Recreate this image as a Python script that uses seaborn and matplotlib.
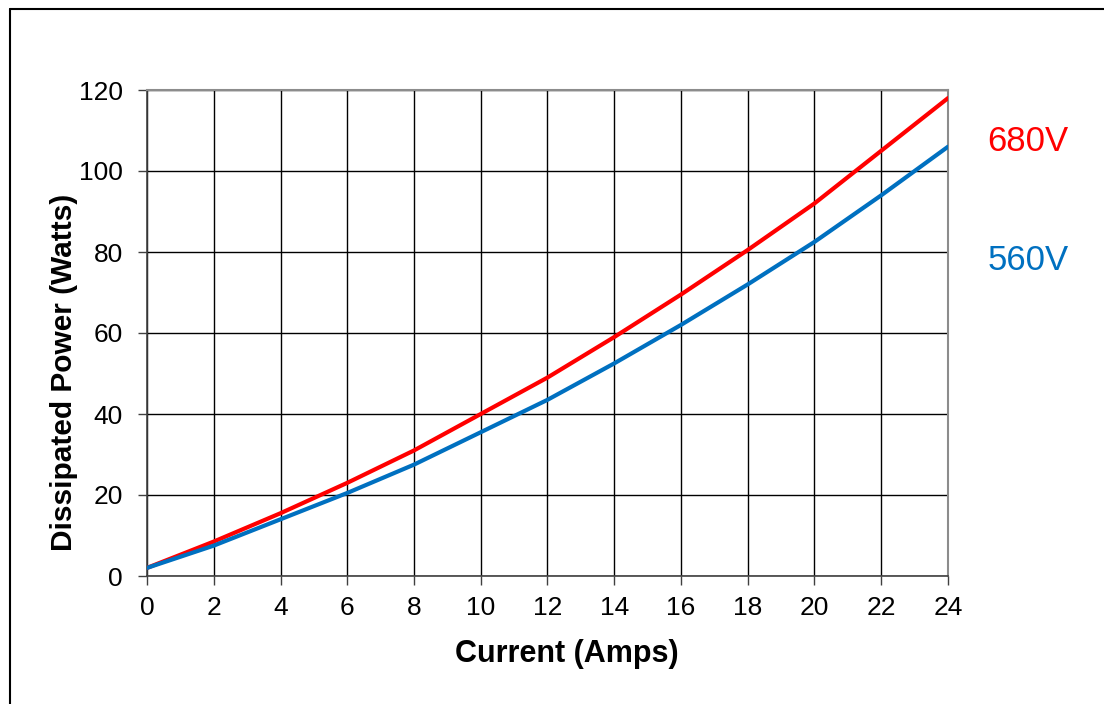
import matplotlib
matplotlib.use("Agg")
import matplotlib.pyplot as plt
import seaborn as sns
import pandas as pd
from matplotlib.lines import Line2D

current = [0, 2, 4, 6, 8, 10, 12, 14, 16, 18, 20, 22, 24]
power_680 = [2, 8.5, 15.5, 23, 31, 40, 49, 59, 69.5, 80.5, 92, 105, 118]
power_560 = [2, 7.5, 14, 20.5, 27.5, 35.5, 43.5, 52.5, 62, 72, 82.5, 94, 106]
series_names = ["680V", "560V"]
x_ticks = list(range(0, 25, 2))
y_ticks = list(range(0, 121, 20))

df = pd.DataFrame({
    "Current": current * 2,
    "Power": power_680 + power_560,
    "Series": [series_names[0]] * len(current) + [series_names[1]] * len(current),
})

sns.set_style("white")
plt.rcParams["font.family"] = ["Liberation Sans", "DejaVu Sans"]
plt.rcParams["text.color"] = "black"
plt.rcParams["axes.labelcolor"] = "black"
plt.rcParams["xtick.labelcolor"] = "black"
plt.rcParams["ytick.labelcolor"] = "black"

fig = plt.figure(figsize=(11.04, 7.04), dpi=100)
ax = fig.add_axes([147/1104, 1-576/704, (948-147)/1104, (576-90)/704])

colors = {"680V": "#FF0000", "560V": "#0070C0"}
sns.lineplot(data=df, x="Current", y="Power", hue="Series", palette=colors,
             linewidth=3, ax=ax, legend=False, zorder=3)

ax.set_xlim(0, 24)
ax.set_ylim(0, 120)
ax.set_xticks(x_ticks)
ax.set_yticks(y_ticks)
ax.grid(True, color="black", linewidth=1.0, zorder=1)
ax.set_axisbelow(True)
for s in ["top", "right"]:
    ax.spines[s].set_color("#8c8c8c")
    ax.spines[s].set_linewidth(1.5)
for s in ["left", "bottom"]:
    ax.spines[s].set_color("#404040")
    ax.spines[s].set_linewidth(1.2)
ax.tick_params(axis="both", which="major", direction="out", length=6.5, width=1,
               color="#404040", labelsize=19, bottom=True, left=True,
               labelcolor="black")
ax.tick_params(axis="y", pad=11)
ax.tick_params(axis="x", pad=8)

ax.set_xlabel("Current (Amps)", fontsize=22, fontweight="bold", color="black")
ax.set_ylabel("Dissipated Power (Watts)", fontsize=21.5, fontweight="bold", color="black")
ax.xaxis.set_label_coords(0.524, -0.13)
ax.yaxis.set_label_coords(-0.086, 0.419)

ax.text(26.4, 107.2, "680V", color="#FF0000", fontsize=25, ha="center", va="center", clip_on=False)
ax.text(26.4, 78.0, "560V", color="#0070C0", fontsize=25, ha="center", va="center", clip_on=False)

# outer frame (top and left edges visible)
fig.add_artist(Line2D([9.5/1104, 1], [1-8.5/704, 1-8.5/704], color="black", linewidth=1.5, transform=fig.transFigure))
fig.add_artist(Line2D([9.5/1104, 9.5/1104], [0, 1-8.5/704], color="black", linewidth=1.5, transform=fig.transFigure))

fig.savefig("out.png", dpi=100)
